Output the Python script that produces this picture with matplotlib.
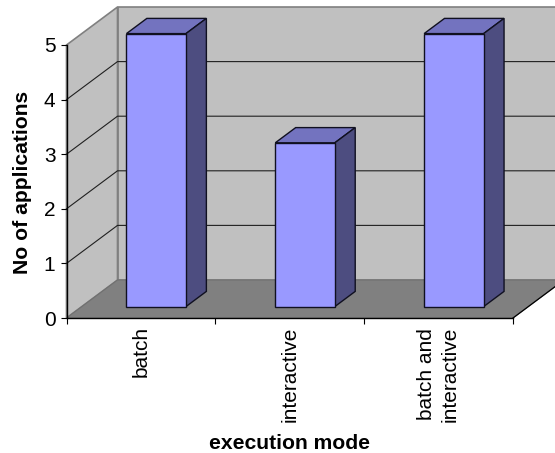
import matplotlib
matplotlib.use('Agg')
import matplotlib.pyplot as plt
from matplotlib.patches import Polygon

plt.rcParams['font.family'] = ['Liberation Sans', 'DejaVu Sans']

categories = ['batch', 'interactive', 'batch and\ninteractive']
values = [5, 3, 5]
y_ticks = [0, 1, 2, 3, 4, 5]

W, H = 555, 453
fig = plt.figure(figsize=(W / 100, H / 100), dpi=100)
ax = fig.add_axes([66.5 / W, (H - 318) / H, 446.5 / W, 273 / H])
ax.set_xlim(0, len(categories))
ax.set_ylim(0, y_ticks[-1])
ax.patch.set_visible(False)

# how far the back of the box is shifted, in data units
DX = 51 / (446.5 / 3)
DY = 38 / (273 / 5)


def oblique(x, y, d):
    return (x + d * DX, y + d * DY)


def poly(points, face, edge, lw=1.0, z=1):
    ax.add_patch(Polygon(points, closed=True, facecolor=face, edgecolor=edge,
                         linewidth=lw, clip_on=False, zorder=z))


n = len(categories)
top = y_ticks[-1]
# walls and floor
poly([oblique(0, 0, 1), oblique(n, 0, 1), oblique(n, top, 1), oblique(0, top, 1)], '#c0c0c0', '#808080', 1.2)
poly([oblique(0, 0, 0), oblique(0, 0, 1), oblique(0, top, 1), oblique(0, top, 0)], '#c0c0c0', '#808080', 1.2)
poly([oblique(0, 0, 0), oblique(n, 0, 0), oblique(n, 0, 1), oblique(0, 0, 1)], '#808080', '#707070', 0.8)

# gridlines
for v in y_ticks[1:-1]:
    a, b, c = oblique(0, v, 0), oblique(0, v, 1), oblique(n, v, 1)
    ax.plot([a[0], b[0], c[0]], [a[1], b[1], c[1]], color='#202020', lw=0.8, clip_on=False, zorder=2)

# right floor edge
a, b = oblique(n, 0, 0), oblique(n, 0, 1)
ax.plot([a[0], b[0]], [a[1], b[1]], color='black', lw=0.9, clip_on=False, zorder=2)

# bars
bar_w = 0.4
for i, v in enumerate(values):
    x0 = i + 0.5 - bar_w / 2
    x1 = x0 + bar_w
    poly([oblique(x0, v, 0.3), oblique(x1, v, 0.3), oblique(x1, v, 0.7), oblique(x0, v, 0.7)], '#7373bf', '#101020', 1.0, 3)
    poly([oblique(x1, 0, 0.3), oblique(x1, 0, 0.7), oblique(x1, v, 0.7), oblique(x1, v, 0.3)], '#4d4d80', '#101020', 1.0, 3)
    poly([oblique(x0, 0, 0.3), oblique(x1, 0, 0.3), oblique(x1, v, 0.3), oblique(x0, v, 0.3)], '#9999ff', '#101020', 1.0, 4)

for s in ['top', 'right']:
    ax.spines[s].set_visible(False)
for s in ['left', 'bottom']:
    ax.spines[s].set_linewidth(1.0)
    ax.spines[s].set_color('black')
    ax.spines[s].set_zorder(5)

ax.set_yticks(y_ticks)
ax.tick_params(axis='y', labelsize=15, length=4, width=0.8, pad=4)
ax.set_xticks(range(n + 1))
ax.set_xticklabels([])
ax.tick_params(axis='x', which='major', length=4.5, width=0.8)
ax.set_xticks([i + 0.5 for i in range(n)], minor=True)
ax.set_xticklabels(categories, minor=True, rotation=90, fontsize=15, ha='center', va='top', ma='center',
                   linespacing=1.3)
ax.tick_params(axis='x', which='minor', length=0, pad=6)

ax.set_xlabel('execution mode', fontsize=15.2, fontweight='bold')
ax.xaxis.set_label_coords(0.5, -0.425)
ax.set_ylabel('No of applications', fontsize=15.2, fontweight='bold')
ax.yaxis.set_label_coords(-0.078, 0.495)

fig.savefig('out.png', dpi=100)
